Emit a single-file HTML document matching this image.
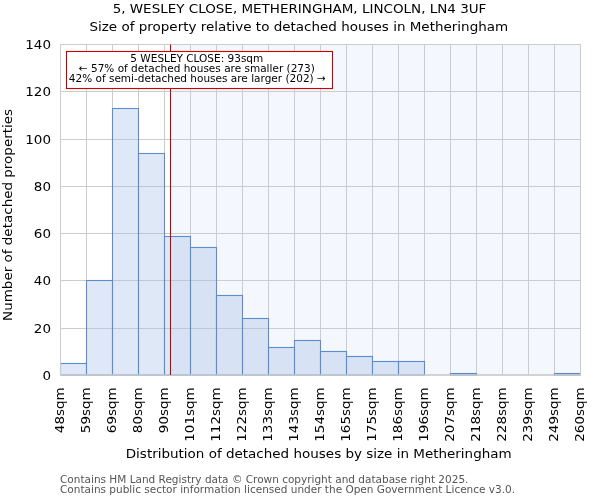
<!DOCTYPE html><html><head><meta charset="utf-8"><style>html,body{margin:0;padding:0;background:#fff;}svg{display:block}text{font-family:'DejaVu Sans','Liberation Sans',sans-serif}</style></head><body>
<svg width="600" height="500" viewBox="0 0 600 500">
<rect x="170.5" y="44.5" width="410.0" height="330.5" fill="#f4f7fd"/>
<line x1="60.5" y1="44.5" x2="60.5" y2="375.0" stroke="#cccccc" stroke-width="1"/>
<line x1="86.5" y1="44.5" x2="86.5" y2="375.0" stroke="#cccccc" stroke-width="1"/>
<line x1="112.5" y1="44.5" x2="112.5" y2="375.0" stroke="#cccccc" stroke-width="1"/>
<line x1="138.5" y1="44.5" x2="138.5" y2="375.0" stroke="#cccccc" stroke-width="1"/>
<line x1="164.5" y1="44.5" x2="164.5" y2="375.0" stroke="#cccccc" stroke-width="1"/>
<line x1="190.5" y1="44.5" x2="190.5" y2="375.0" stroke="#cccccc" stroke-width="1"/>
<line x1="216.5" y1="44.5" x2="216.5" y2="375.0" stroke="#cccccc" stroke-width="1"/>
<line x1="242.5" y1="44.5" x2="242.5" y2="375.0" stroke="#cccccc" stroke-width="1"/>
<line x1="268.5" y1="44.5" x2="268.5" y2="375.0" stroke="#cccccc" stroke-width="1"/>
<line x1="294.5" y1="44.5" x2="294.5" y2="375.0" stroke="#cccccc" stroke-width="1"/>
<line x1="320.5" y1="44.5" x2="320.5" y2="375.0" stroke="#cccccc" stroke-width="1"/>
<line x1="346.5" y1="44.5" x2="346.5" y2="375.0" stroke="#cccccc" stroke-width="1"/>
<line x1="372.5" y1="44.5" x2="372.5" y2="375.0" stroke="#cccccc" stroke-width="1"/>
<line x1="398.5" y1="44.5" x2="398.5" y2="375.0" stroke="#cccccc" stroke-width="1"/>
<line x1="424.5" y1="44.5" x2="424.5" y2="375.0" stroke="#cccccc" stroke-width="1"/>
<line x1="450.5" y1="44.5" x2="450.5" y2="375.0" stroke="#cccccc" stroke-width="1"/>
<line x1="476.5" y1="44.5" x2="476.5" y2="375.0" stroke="#cccccc" stroke-width="1"/>
<line x1="502.5" y1="44.5" x2="502.5" y2="375.0" stroke="#cccccc" stroke-width="1"/>
<line x1="528.5" y1="44.5" x2="528.5" y2="375.0" stroke="#cccccc" stroke-width="1"/>
<line x1="554.5" y1="44.5" x2="554.5" y2="375.0" stroke="#cccccc" stroke-width="1"/>
<line x1="580.5" y1="44.5" x2="580.5" y2="375.0" stroke="#cccccc" stroke-width="1"/>
<line x1="60.5" y1="375.00" x2="580.5" y2="375.00" stroke="#cccccc" stroke-width="1"/>
<line x1="60.5" y1="328.50" x2="580.5" y2="328.50" stroke="#cccccc" stroke-width="1"/>
<line x1="60.5" y1="280.50" x2="580.5" y2="280.50" stroke="#cccccc" stroke-width="1"/>
<line x1="60.5" y1="233.50" x2="580.5" y2="233.50" stroke="#cccccc" stroke-width="1"/>
<line x1="60.5" y1="186.50" x2="580.5" y2="186.50" stroke="#cccccc" stroke-width="1"/>
<line x1="60.5" y1="139.50" x2="580.5" y2="139.50" stroke="#cccccc" stroke-width="1"/>
<line x1="60.5" y1="91.50" x2="580.5" y2="91.50" stroke="#cccccc" stroke-width="1"/>
<line x1="60.5" y1="44.50" x2="580.5" y2="44.50" stroke="#cccccc" stroke-width="1"/>
<rect x="60.5" y="363.50" width="26.0" height="11.50" fill="rgba(160,190,230,0.35)" stroke="#5a8cd2" stroke-width="1.1"/>
<rect x="86.5" y="280.50" width="26.0" height="94.50" fill="rgba(160,190,230,0.35)" stroke="#5a8cd2" stroke-width="1.1"/>
<rect x="112.5" y="108.50" width="26.0" height="266.50" fill="rgba(160,190,230,0.35)" stroke="#5a8cd2" stroke-width="1.1"/>
<rect x="138.5" y="153.50" width="26.0" height="221.50" fill="rgba(160,190,230,0.35)" stroke="#5a8cd2" stroke-width="1.1"/>
<rect x="164.5" y="236.50" width="26.0" height="138.50" fill="rgba(160,190,230,0.35)" stroke="#5a8cd2" stroke-width="1.1"/>
<rect x="190.5" y="247.50" width="26.0" height="127.50" fill="rgba(160,190,230,0.35)" stroke="#5a8cd2" stroke-width="1.1"/>
<rect x="216.5" y="295.50" width="26.0" height="79.50" fill="rgba(160,190,230,0.35)" stroke="#5a8cd2" stroke-width="1.1"/>
<rect x="242.5" y="318.50" width="26.0" height="56.50" fill="rgba(160,190,230,0.35)" stroke="#5a8cd2" stroke-width="1.1"/>
<rect x="268.5" y="347.50" width="26.0" height="27.50" fill="rgba(160,190,230,0.35)" stroke="#5a8cd2" stroke-width="1.1"/>
<rect x="294.5" y="340.50" width="26.0" height="34.50" fill="rgba(160,190,230,0.35)" stroke="#5a8cd2" stroke-width="1.1"/>
<rect x="320.5" y="351.50" width="26.0" height="23.50" fill="rgba(160,190,230,0.35)" stroke="#5a8cd2" stroke-width="1.1"/>
<rect x="346.5" y="356.50" width="26.0" height="18.50" fill="rgba(160,190,230,0.35)" stroke="#5a8cd2" stroke-width="1.1"/>
<rect x="372.5" y="361.50" width="26.0" height="13.50" fill="rgba(160,190,230,0.35)" stroke="#5a8cd2" stroke-width="1.1"/>
<rect x="398.5" y="361.50" width="26.0" height="13.50" fill="rgba(160,190,230,0.35)" stroke="#5a8cd2" stroke-width="1.1"/>
<rect x="450.5" y="373.50" width="26.0" height="1.50" fill="rgba(160,190,230,0.35)" stroke="#5a8cd2" stroke-width="1.1"/>
<rect x="554.5" y="373.50" width="26.0" height="1.50" fill="rgba(160,190,230,0.35)" stroke="#5a8cd2" stroke-width="1.1"/>
<path d="M60.5 375.6V44.5H580.5V375.6" fill="none" stroke="#cccccc" stroke-width="1.05"/>
<line x1="60" y1="375.0" x2="581" y2="375.0" stroke="#cccccc" stroke-width="1.6"/>
<line x1="170.5" y1="44.5" x2="170.5" y2="375.0" stroke="#cc0000" stroke-width="1.1"/>
<rect x="66.5" y="51.5" width="266" height="37" fill="#fff" stroke="#cc0000" stroke-width="1.1"/>
<text transform="translate(196.80 61.70) scale(1 1)" font-size="10.5" text-anchor="middle" fill="#000">5 WESLEY CLOSE: 93sqm</text>
<text transform="translate(196.80 71.50) scale(1 1)" font-size="10.5" text-anchor="middle" fill="#000">← 57% of detached houses are smaller (273)</text>
<text transform="translate(197.30 82.00) scale(1 1)" font-size="10.5" text-anchor="middle" fill="#000">42% of semi-detached houses are larger (202) →</text>
<text transform="translate(299.50 12.70) scale(1 0.91)" font-size="13.5" text-anchor="middle" fill="#000">5, WESLEY CLOSE, METHERINGHAM, LINCOLN, LN4 3UF</text>
<text transform="translate(298.80 30.70) scale(1 0.91)" font-size="13.5" text-anchor="middle" fill="#000">Size of property relative to detached houses in Metheringham</text>
<text transform="translate(51.00 379.80) scale(1 0.91)" font-size="13.5" text-anchor="end" fill="#000">0</text>
<text transform="translate(51.00 333.30) scale(1 0.91)" font-size="13.5" text-anchor="end" fill="#000">20</text>
<text transform="translate(51.00 285.30) scale(1 0.91)" font-size="13.5" text-anchor="end" fill="#000">40</text>
<text transform="translate(51.00 238.30) scale(1 0.91)" font-size="13.5" text-anchor="end" fill="#000">60</text>
<text transform="translate(51.00 191.30) scale(1 0.91)" font-size="13.5" text-anchor="end" fill="#000">80</text>
<text transform="translate(51.00 144.30) scale(1 0.91)" font-size="13.5" text-anchor="end" fill="#000">100</text>
<text transform="translate(51.00 96.30) scale(1 0.91)" font-size="13.5" text-anchor="end" fill="#000">120</text>
<text transform="translate(51.00 49.30) scale(1 0.91)" font-size="13.5" text-anchor="end" fill="#000">140</text>
<text transform="translate(64.10 387.30) rotate(-90) scale(1 0.91)" font-size="13.5" text-anchor="end" fill="#000">48sqm</text>
<text transform="translate(90.10 387.30) rotate(-90) scale(1 0.91)" font-size="13.5" text-anchor="end" fill="#000">59sqm</text>
<text transform="translate(116.10 387.30) rotate(-90) scale(1 0.91)" font-size="13.5" text-anchor="end" fill="#000">69sqm</text>
<text transform="translate(142.10 387.30) rotate(-90) scale(1 0.91)" font-size="13.5" text-anchor="end" fill="#000">80sqm</text>
<text transform="translate(168.10 387.30) rotate(-90) scale(1 0.91)" font-size="13.5" text-anchor="end" fill="#000">90sqm</text>
<text transform="translate(194.10 387.30) rotate(-90) scale(1 0.91)" font-size="13.5" text-anchor="end" fill="#000">101sqm</text>
<text transform="translate(220.10 387.30) rotate(-90) scale(1 0.91)" font-size="13.5" text-anchor="end" fill="#000">112sqm</text>
<text transform="translate(246.10 387.30) rotate(-90) scale(1 0.91)" font-size="13.5" text-anchor="end" fill="#000">122sqm</text>
<text transform="translate(272.10 387.30) rotate(-90) scale(1 0.91)" font-size="13.5" text-anchor="end" fill="#000">133sqm</text>
<text transform="translate(298.10 387.30) rotate(-90) scale(1 0.91)" font-size="13.5" text-anchor="end" fill="#000">143sqm</text>
<text transform="translate(324.10 387.30) rotate(-90) scale(1 0.91)" font-size="13.5" text-anchor="end" fill="#000">154sqm</text>
<text transform="translate(350.10 387.30) rotate(-90) scale(1 0.91)" font-size="13.5" text-anchor="end" fill="#000">165sqm</text>
<text transform="translate(376.10 387.30) rotate(-90) scale(1 0.91)" font-size="13.5" text-anchor="end" fill="#000">175sqm</text>
<text transform="translate(402.10 387.30) rotate(-90) scale(1 0.91)" font-size="13.5" text-anchor="end" fill="#000">186sqm</text>
<text transform="translate(428.10 387.30) rotate(-90) scale(1 0.91)" font-size="13.5" text-anchor="end" fill="#000">196sqm</text>
<text transform="translate(454.10 387.30) rotate(-90) scale(1 0.91)" font-size="13.5" text-anchor="end" fill="#000">207sqm</text>
<text transform="translate(480.10 387.30) rotate(-90) scale(1 0.91)" font-size="13.5" text-anchor="end" fill="#000">218sqm</text>
<text transform="translate(506.10 387.30) rotate(-90) scale(1 0.91)" font-size="13.5" text-anchor="end" fill="#000">228sqm</text>
<text transform="translate(532.10 387.30) rotate(-90) scale(1 0.91)" font-size="13.5" text-anchor="end" fill="#000">239sqm</text>
<text transform="translate(558.10 387.30) rotate(-90) scale(1 0.91)" font-size="13.5" text-anchor="end" fill="#000">249sqm</text>
<text transform="translate(584.10 387.30) rotate(-90) scale(1 0.91)" font-size="13.5" text-anchor="end" fill="#000">260sqm</text>
<text transform="translate(12.00 214.90) rotate(-90) scale(1 0.91)" font-size="13.5" text-anchor="middle" fill="#000">Number of detached properties</text>
<text transform="translate(318.70 457.80) scale(1 0.91)" font-size="13.5" text-anchor="middle" fill="#000">Distribution of detached houses by size in Metheringham</text>
<text transform="translate(60.00 482.50) scale(1 1)" font-size="10.5" fill="#555">Contains HM Land Registry data © Crown copyright and database right 2025.</text>
<text transform="translate(60.00 492.50) scale(1 1)" font-size="10.5" fill="#555">Contains public sector information licensed under the Open Government Licence v3.0.</text>
</svg></body></html>
